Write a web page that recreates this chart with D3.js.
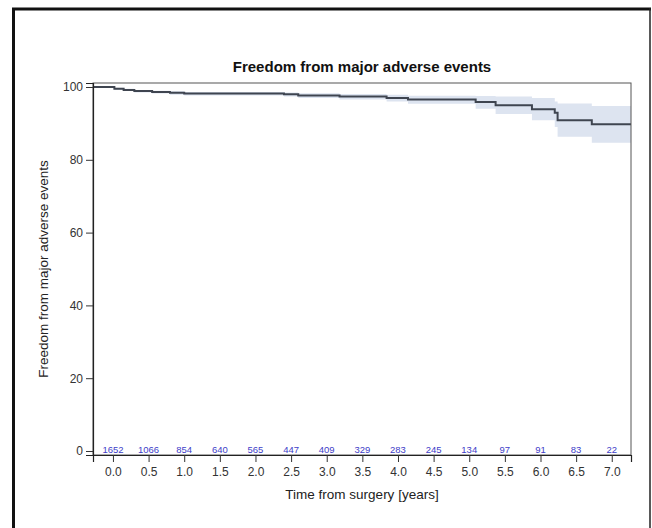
<!DOCTYPE html>
<html>
<head>
<meta charset="utf-8">
<script src="https://cdn.jsdelivr.net/npm/d3@7"></script>
<style>
  body { margin: 0; background: #fff; }
  svg { display: block; font-family: "Liberation Sans", Arial, sans-serif; }
</style>
</head>
<body>
<svg width="652" height="528"></svg>
<script>
// Kaplan-Meier step estimates (time in years, survival %)
const times = [-0.28, 0.02, 0.15, 0.3, 0.55, 0.8, 1.0, 2.4, 2.6, 3.18, 3.84, 4.14, 5.09, 5.37, 5.88, 6.2, 6.24, 6.72];
const survival = [100, 99.5, 99.2, 98.9, 98.6, 98.4, 98.2, 98.0, 97.7, 97.4, 97.0, 96.6, 95.9, 95.0, 93.9, 92.9, 90.9, 89.8];
const lower = [100, 99.2, 98.9, 98.5, 98.2, 97.9, 97.7, 97.4, 97.0, 96.6, 96.0, 95.4, 94.0, 92.6, 90.9, 89.0, 86.3, 84.7];
const upper = [100, 99.8, 99.5, 99.2, 99.0, 98.8, 98.6, 98.5, 98.3, 98.1, 97.9, 97.6, 97.5, 97.4, 97.0, 96.0, 95.5, 94.8];
const endTime = 7.27;

const riskTimes = [0, 0.5, 1, 1.5, 2, 2.5, 3, 3.5, 4, 4.5, 5, 5.5, 6, 6.5, 7];
const atRisk = [1652, 1066, 854, 640, 565, 447, 409, 329, 283, 245, 134, 97, 91, 83, 22];
const yTicks = [0, 20, 40, 60, 80, 100];

const svg = d3.select('svg');
const margin = { left: 93, right: 21, top: 83, bottom: 73 };
const width = +svg.attr('width');
const height = +svg.attr('height');

const x = d3.scaleLinear().domain([-0.28, endTime]).range([margin.left, width - margin.right]);
const y = d3.scaleLinear().domain([-1.1, 101.1]).range([height - margin.bottom, margin.top]);

// outer border
svg.append('line').attr('x1', 12).attr('x2', 651).attr('y1', 9).attr('y2', 9)
  .attr('stroke', '#111').attr('stroke-width', 3);
svg.append('line').attr('x1', 13.5).attr('x2', 13.5).attr('y1', 8).attr('y2', 528)
  .attr('stroke', '#111').attr('stroke-width', 3);
svg.append('line').attr('x1', 650).attr('x2', 650).attr('y1', 8).attr('y2', 528)
  .attr('stroke', '#222').attr('stroke-width', 1.5);

const data = times.map((t, i) => ({ t, s: survival[i], lo: lower[i], hi: upper[i] }));
data.push({ t: endTime, s: survival[survival.length - 1], lo: lower[lower.length - 1], hi: upper[upper.length - 1] });

// confidence band
svg.append('path')
  .datum(data)
  .attr('fill', '#dde4f0')
  .attr('d', d3.area()
    .curve(d3.curveStepAfter)
    .x(d => x(d.t))
    .y0(d => y(d.lo))
    .y1(d => y(d.hi)));

// survival curve
svg.append('path')
  .datum(data)
  .attr('fill', 'none')
  .attr('stroke', '#3f4550')
  .attr('stroke-width', 2)
  .attr('d', d3.line()
    .curve(d3.curveStepAfter)
    .x(d => x(d.t))
    .y(d => y(d.s)));

// plot frame
svg.append('rect')
  .attr('x', margin.left).attr('y', margin.top)
  .attr('width', width - margin.right - margin.left)
  .attr('height', height - margin.bottom - margin.top)
  .attr('fill', 'none').attr('stroke', '#555').attr('stroke-width', 1);

// axes
const yAxis = svg.append('g')
  .attr('transform', `translate(${margin.left},0)`)
  .call(d3.axisLeft(y).tickValues(yTicks).tickSize(7).tickPadding(3).tickFormat(d3.format('d')));
const xAxis = svg.append('g')
  .attr('transform', `translate(0,${height - margin.bottom})`)
  .call(d3.axisBottom(x).tickValues(riskTimes).tickSize(7).tickPadding(5).tickFormat(d3.format('.1f')));

[yAxis, xAxis].forEach(g => {
  g.select('.domain').attr('stroke', '#222').attr('stroke-width', 1.2);
  g.selectAll('.tick line').attr('stroke', '#333');
  g.selectAll('.tick text').attr('fill', '#333').style('font-size', '12px')
    .style('font-family', '"Liberation Sans", Arial, sans-serif');
});

// numbers at risk
svg.append('g')
  .selectAll('text')
  .data(riskTimes)
  .enter().append('text')
    .attr('x', d => x(d))
    .attr('y', y(0) + 2)
    .attr('text-anchor', 'middle')
    .attr('fill', '#4040c8')
    .style('font-size', '9.5px')
    .text((d, i) => atRisk[i]);

// title
svg.append('text')
  .attr('x', (margin.left + width - margin.right) / 2)
  .attr('y', 72)
  .attr('text-anchor', 'middle')
  .attr('fill', '#111')
  .style('font-size', '15px')
  .style('font-weight', 'bold')
  .text('Freedom from major adverse events');

// axis labels
svg.append('text')
  .attr('x', (margin.left + width - margin.right) / 2)
  .attr('y', 499)
  .attr('text-anchor', 'middle')
  .attr('fill', '#222')
  .style('font-size', '13.5px')
  .text('Time from surgery [years]');

svg.append('text')
  .attr('transform', `translate(48,${(margin.top + height - margin.bottom) / 2}) rotate(-90)`)
  .attr('text-anchor', 'middle')
  .attr('fill', '#222')
  .style('font-size', '13.5px')
  .text('Freedom from major adverse events');
</script>
</body>
</html>
